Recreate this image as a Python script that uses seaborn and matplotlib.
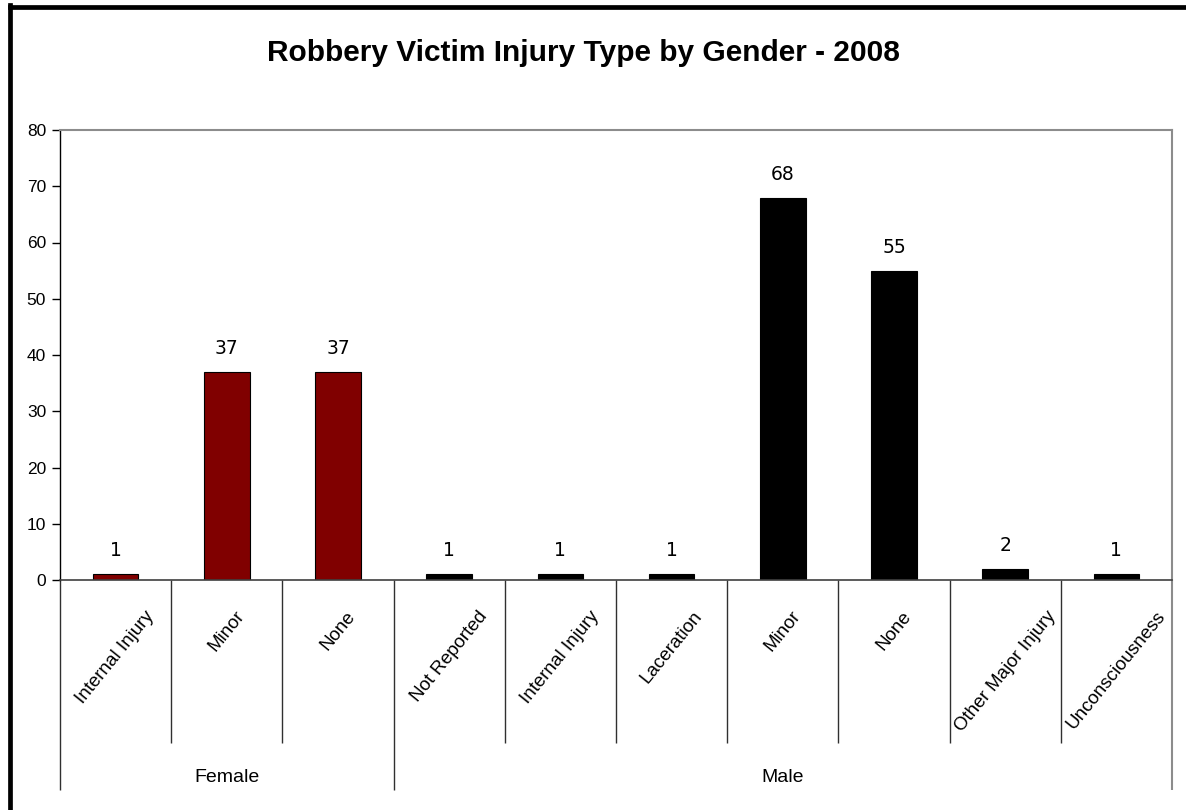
import matplotlib
matplotlib.use("Agg")
import matplotlib.pyplot as plt
import matplotlib.transforms as mtransforms
from matplotlib.lines import Line2D
import seaborn as sns
import pandas as pd

# Data
genders = ["Female"] * 3 + ["Male"] * 7
injuries = ["Internal Injury", "Minor", "None",
            "Not Reported", "Internal Injury", "Laceration", "Minor", "None",
            "Other Major Injury", "Unconsciousness"]
counts = [1, 37, 37, 1, 1, 1, 68, 55, 2, 1]
y_ticks = [0, 10, 20, 30, 40, 50, 60, 70, 80]
title = "Robbery Victim Injury Type by Gender - 2008"

sns.set_theme(style="white")
plt.rcParams["font.family"] = ["Liberation Sans", "DejaVu Sans"]
for key in ["text.color", "axes.labelcolor", "xtick.color", "ytick.color"]:
    plt.rcParams[key] = "black"

slots = [f"{g}|{i}|{k}" for k, (g, i) in enumerate(zip(genders, injuries))]
df = pd.DataFrame({"slot": slots, "gender": genders, "injury": injuries, "count": counts})

fig = plt.figure(figsize=(11.86, 8.10), dpi=100)
W, H = 1186, 810
ax = fig.add_axes([60 / W, 1 - 580 / H, (1172 - 60) / W, (580 - 130) / H])

sns.barplot(data=df, x="slot", y="count", hue="gender", order=slots,
            palette={"Female": "#800000", "Male": "#000000"},
            saturation=1, dodge=False, width=0.41,
            edgecolor="black", linewidth=0.8, legend=False, ax=ax)

ax.set_xlim(-0.5, len(slots) - 0.5)
ax.set_ylim(0, 80)
ax.set_yticks(y_ticks)
ax.set_yticklabels([str(t) for t in y_ticks], fontsize=12.5)
ax.tick_params(axis="y", which="major", left=True, length=6, width=1,
               color="black", direction="out", pad=4)
ax.tick_params(axis="x", length=0, pad=20)
ax.set_xticks(range(len(slots)))
ax.set_xticklabels(injuries, rotation=51, ha="center", va="top", fontsize=13.5)
ax.set_xlabel("")
ax.set_ylabel("")
ax.grid(False)

for side in ["top", "right"]:
    ax.spines[side].set_color("#8c8c8c")
    ax.spines[side].set_linewidth(1.5)
ax.spines["left"].set_color("black")
ax.spines["left"].set_linewidth(1)
ax.spines["bottom"].set_color("#404040")
ax.spines["bottom"].set_linewidth(1.2)

# Value labels above each bar
for k, v in enumerate(counts):
    ax.annotate(str(v), (k, v), xytext=(0, 10), textcoords="offset points",
                ha="center", va="bottom", fontsize=13.5,
                family=["DejaVu Sans"])

# Two-level category axis separators
trans = mtransforms.blended_transform_factory(ax.transData, ax.transAxes)
short_y = -(743 - 580) / 450
long_y = -(790 - 580) / 450
group_bounds = [-0.5, 2.5, len(slots) - 0.5]
for b in [k - 0.5 for k in range(len(slots) + 1)]:
    end = long_y if b in group_bounds else short_y
    color = "#8c8c8c" if b == group_bounds[-1] else "#303030"
    lw = 1.5 if b == group_bounds[-1] else 1.0
    ax.plot([b, b], [0, end], transform=trans, color=color, lw=lw,
            clip_on=False, solid_capstyle="butt")

group_y = -(777 - 580) / 450
for name, lo, hi in [("Female", group_bounds[0], group_bounds[1]),
                     ("Male", group_bounds[1], group_bounds[2])]:
    ax.text((lo + hi) / 2, group_y, name, transform=trans, ha="center",
            va="center", fontsize=14)

fig.text(583 / W, 1 - 53 / H, title, ha="center", va="center",
         fontsize=21.5, fontweight="bold")

# Outer chart frame (left and top edges)
fig.add_artist(Line2D([10 / W, 10 / W], [0, 1 - 5 / H], transform=fig.transFigure,
                      color="black", lw=3.4, solid_capstyle="projecting"))
fig.add_artist(Line2D([10 / W, 1], [1 - 7 / H, 1 - 7 / H], transform=fig.transFigure,
                      color="black", lw=3.4, solid_capstyle="projecting"))

fig.savefig("out.png", dpi=100, facecolor="white")
